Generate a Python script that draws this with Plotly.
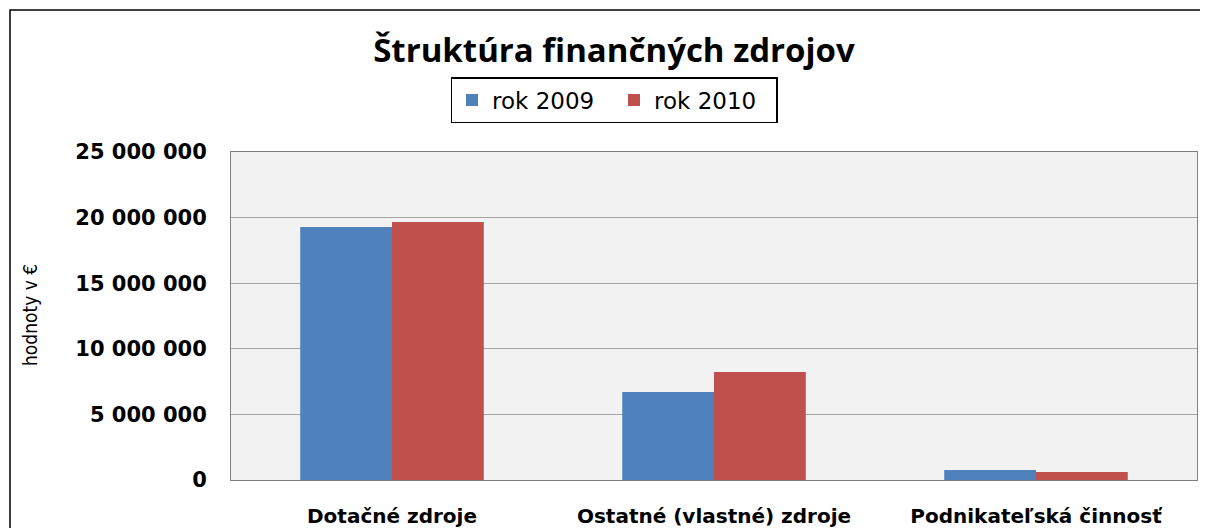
import plotly.graph_objects as go

categories = ["Dotačné zdroje", "Ostatné (vlastné) zdroje", "Podnikateľská činnosť"]
rok_2009 = [19280000, 6710000, 760000]
rok_2010 = [19660000, 8230000, 610000]
tick_vals = [0, 5000000, 10000000, 15000000, 20000000, 25000000]
tick_text = ["0", "5 000 000", "10 000 000", "15 000 000", "20 000 000", "25 000 000"]

# the page body adds an 8px offset; geometry below is in figure coordinates
W, H = 1200, 520
L, R, T, B = 223, 1189, 144, 472
pw, ph = R - L, B - T

def px(x):
    return (x - L) / pw

def py(y):
    return (B - y) / ph

fig = go.Figure()
fig.add_trace(go.Bar(name="rok 2009", x=categories, y=rok_2009, marker_color="#4f81bd", marker_line_width=0))
fig.add_trace(go.Bar(name="rok 2010", x=categories, y=rok_2010, marker_color="#c0504d", marker_line_width=0))

fig.update_layout(
    width=W, height=H,
    margin=dict(l=L, r=W - R, t=T, b=H - B, autoexpand=False),
    paper_bgcolor="white",
    plot_bgcolor="#f2f2f2",
    barmode="group",
    bargap=0.43,
    bargroupgap=0,
    title=dict(text="<b>Štruktúra finančných zdrojov</b>", x=606 / W, y=1 - 42 / H,
               xanchor="center", yanchor="middle",
               font=dict(family="Open Sans", size=33, color="black")),
    legend=dict(orientation="h", x=px(606), y=py(92), xanchor="center", yanchor="middle",
                bordercolor="black", borderwidth=1.5, bgcolor="white",
                font=dict(family="DejaVu Sans", size=23, color="black"),
                itemwidth=30, traceorder="normal",
                entrywidth=117, entrywidthmode="pixels"),
    showlegend=True,
    font=dict(family="DejaVu Sans", color="black"),
)

fig.update_yaxes(range=[0, 25000000], tickvals=tick_vals, ticktext=tick_text,
                 tickfont=dict(family="DejaVu Sans", size=21, color="black", weight="bold"),
                 showgrid=True, gridcolor="#a6a6a6", gridwidth=1,
                 showline=True, linecolor="#7f7f7f", linewidth=1, mirror=True,
                 ticks="", ticklabelstandoff=19, zeroline=False, automargin=False)
fig.update_xaxes(tickfont=dict(family="DejaVu Sans", size=20, color="black", weight="bold"),
                 showline=True, linecolor="#7f7f7f", linewidth=1, mirror=True,
                 ticks="", ticklabelstandoff=18, automargin=False)

fig.add_annotation(text="hodnoty v €", xref="paper", yref="paper", x=px(22), y=py(307),
                   textangle=-90, showarrow=False, xanchor="center", yanchor="middle",
                   font=dict(family="DejaVu Sans Condensed", size=19, color="black"))

fig.add_shape(type="rect", xref="paper", yref="paper",
              x0=px(2), x1=px(1199), y0=py(540), y1=py(2),
              line=dict(color="black", width=1.5), fillcolor="rgba(0,0,0,0)", layer="below")

fig.write_html("out.html")
